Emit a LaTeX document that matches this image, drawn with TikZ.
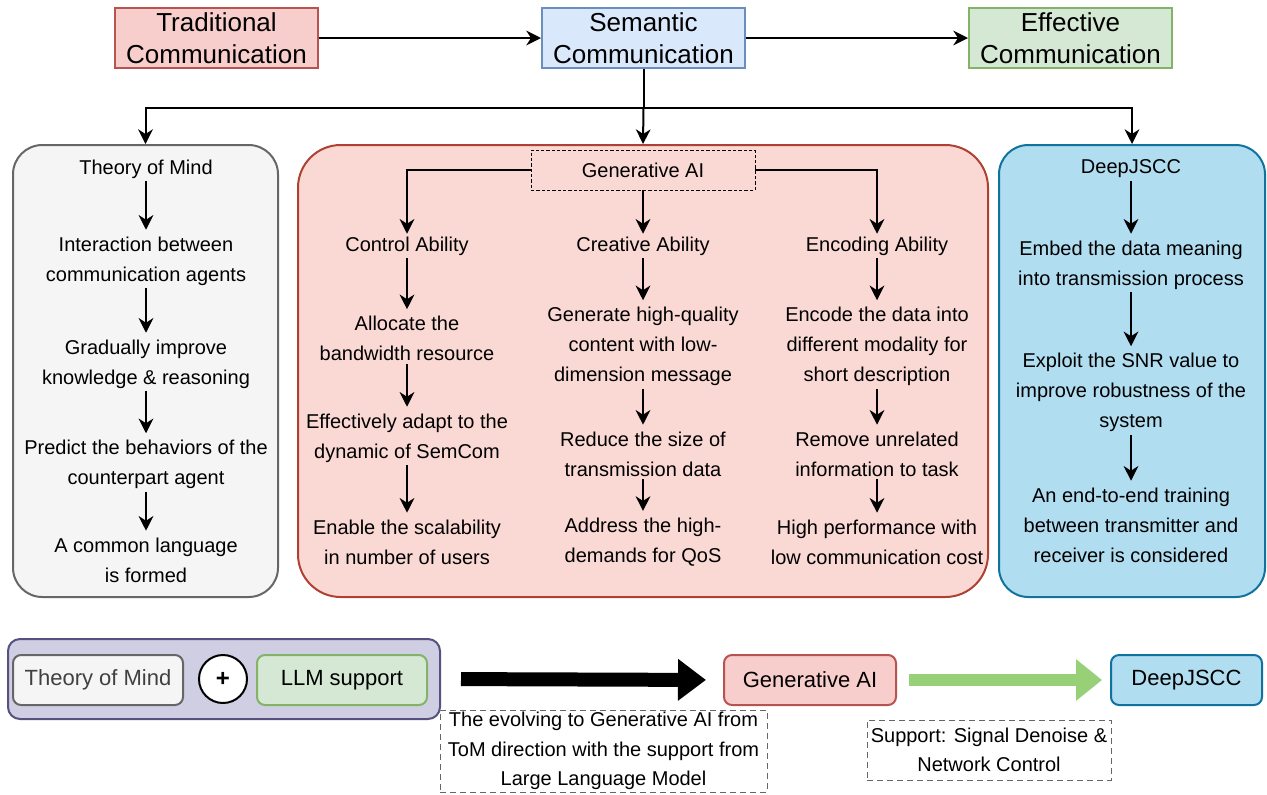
\documentclass[tikz,border=0pt]{standalone}
\usepackage{fontspec}
\setmainfont{Liberation Sans}
\usetikzlibrary{arrows.meta,shapes.geometric}
\definecolor{tradF}{HTML}{F8CECC}\definecolor{tradD}{HTML}{B85450}
\definecolor{semF}{HTML}{DAE8FC}\definecolor{semD}{HTML}{6C8EBF}
\definecolor{effF}{HTML}{D5E8D4}\definecolor{effD}{HTML}{82B366}
\definecolor{tomF}{HTML}{F5F5F5}\definecolor{tomD}{HTML}{666666}
\definecolor{midF}{HTML}{FAD9D5}\definecolor{midD}{HTML}{AE4132}
\definecolor{djF}{HTML}{B1DDF0}\definecolor{djD}{HTML}{10739E}
\definecolor{purF}{HTML}{D0CEE2}\definecolor{purD}{HTML}{56517E}
\definecolor{grA}{HTML}{97D077}
\begin{document}
\begin{tikzpicture}[x=0.75pt,y=-0.75pt,
  box/.style={draw, line width=1.5pt, inner sep=0pt, align=center},
  topbox/.style={box, minimum width={203*0.75pt}, minimum height={60*0.75pt}, font=\fontsize{19.5}{24}\selectfont},
  bigbox/.style={box, minimum height={452*0.75pt}},
  txt/.style={align=center, font=\fontsize{15}{22.5}\selectfont, inner sep=2pt, yshift=-1.5pt},
  botbox/.style={box, rounded corners=6pt, minimum height={50*0.75pt}, font=\fontsize{16.5}{20}\selectfont},
  capbox/.style={draw=tomD, line width=0.75pt, dash pattern=on 4.5pt off 3pt, align=center, inner sep=0pt, font=\fontsize{15}{22.2}\selectfont},
  arr/.style={line width=1.5pt, -{Stealth[length=11pt,width=11pt,inset=3.5pt]}},
  arrS/.style={arr, shorten >=3pt}]
\useasboundingbox (0,0) rectangle (1267,794);

% top row
\node[topbox, fill=tradF, draw=tradD] (trad) at (216.5,38) {Traditional\\Communication};
\node[topbox, fill=semF, draw=semD] (sem) at (643.5,38) {Semantic\\Communication};
\node[topbox, fill=effF, draw=effD] (eff) at (1070.5,38) {Effective\\Communication};
\draw[arr] (trad) -- (sem);
\draw[arr] (sem) -- (eff);

% big boxes
\node[bigbox, fill=tomF, draw=tomD, rounded corners=22pt, minimum width={265*0.75pt}] (tom) at (145.5,371) {};
\node[bigbox, fill=midF, draw=midD, rounded corners=32pt, minimum width={690*0.75pt}] (mid) at (643,371) {};
\node[bigbox, fill=djF, draw=djD, rounded corners=22pt, minimum width={266*0.75pt}] (djs) at (1132,371) {};

\coordinate (j) at (643.5,108);
\draw[line width=1.5pt] (sem.south) -- (j);
\draw[arr] (j) -| (tom.north);
\draw[arr] (j) -- (mid.north);
\draw[arr] (j) -| (djs.north);

% left column
\node[txt] (l0) at (146,167) {Theory of Mind};
\node[txt] (l1) at (146,259) {Interaction between\\communication agents};
\node[txt] (l2) at (146,362) {Gradually improve\\knowledge \& reasoning};
\node[txt] (l3) at (146,462.5) {Predict the behaviors of the\\counterpart agent};
\node[txt] (l4) at (146,558) {A common language\\is formed};
\draw[arrS] (l0) -- (l1);
\draw[arrS] (l1) -- (l2);
\draw[arrS] (l2) -- (l3);
\draw[arrS] (l3) -- (l4);

% middle
\node[txt, draw=black, line width=0.6pt, dash pattern=on 2.5pt off 1.5pt, minimum width={224*0.75pt}, minimum height={40*0.75pt}, inner sep=0pt, yshift=1.5pt] (gai) at (643,170) {Generative AI};
\node[txt] (c0) at (407,244) {Control Ability};
\node[txt] (c1) at (407,336.5) {Allocate the\\bandwidth resource};
\node[txt] (c2) at (407,436) {Effectively adapt to the\\dynamic of SemCom};
\node[txt] (c3) at (407,540) {Enable the scalability\\in number of users};
\node[txt] (r0) at (643,244) {Creative Ability};
\node[txt] (r1) at (643,344.5) {Generate high-quality\\content with low-\\dimension message};
\node[txt] (r2) at (643,452) {Reduce the size of\\transmission data};
\node[txt] (r3) at (643,540) {Address the high-\\demands for QoS};
\node[txt] (e0) at (877,244) {Encoding Ability};
\node[txt] (e1) at (877,344.5) {Encode the data into\\different modality for\\short description};
\node[txt] (e2) at (877,452) {Remove unrelated\\information to task};
\node[txt] (e3) at (877,540) {High performance with\\low communication cost};
\draw[arr] (gai.west) -| (c0.north);
\draw[arr] (gai.south) -- (r0.north);
\draw[arr] (gai.east) -| (e0.north);
\foreach \a/\b in {c0/c1,c1/c2,c2/c3,r0/r1,r1/r2,r2/r3,e0/e1,e1/e2,e2/e3}
  \draw[arrS] (\a) -- (\b);

% right column
\node[txt] (d0) at (1131,167) {DeepJSCC};
\node[txt] (d1) at (1131,263) {Embed the data meaning\\into transmission process};
\node[txt] (d2) at (1131,390.5) {Exploit the SNR value to\\improve robustness of the\\system};
\node[txt] (d3) at (1131,523) {An end-to-end training\\between transmitter and\\receiver is considered};
\draw[arrS] (d0) -- (d1);
\draw[arrS] (d1) -- (d2);
\draw[arrS] (d2) -- (d3);

% bottom row
\node[box, fill=purF, draw=purD, rounded corners=9pt, minimum width={432*0.75pt}, minimum height={80*0.75pt}] (cont) at (224,679) {};
\node[botbox, fill=tomF, draw=tomD, minimum width={170*0.75pt}, text=black!75] (btom) at (98,680) {Theory of Mind};
\node[circle, draw, line width=1.5pt, fill=white, minimum size={48*0.75pt}, inner sep=0pt, font=\fontsize{18}{20}\selectfont\bfseries] (plus) at (223,679) {+};
\node[botbox, fill=effF, draw=effD, minimum width={170*0.75pt}] (llm) at (342,680) {LLM support};
\node[botbox, fill=tradF, draw=tradD, minimum width={172*0.75pt}] (bgen) at (810,680) {Generative AI};
\node[botbox, fill=djF, draw=djD, minimum width={151*0.75pt}] (bdj) at (1186.5,680) {DeepJSCC};
\draw[line width=10.5pt, -{Triangle[length=21pt,width=30pt]}, shorten <=15pt, shorten >=12.75pt] (cont.east) -- (bgen.west);
\draw[grA, line width=9pt, -{Triangle[length=19.5pt,width=30pt]}, shorten <=9pt, shorten >=6pt] (bgen.east) -- (bdj.west);

\node[capbox, minimum width={327*0.75pt}, minimum height={82*0.75pt}] (cap1) at (603.5,751) {The evolving to Generative AI from\\ToM direction with the support from\\Large Language Model};
\node[capbox, minimum width={244*0.75pt}, minimum height={60*0.75pt}] (cap2) at (989,750) {Support: Signal Denoise \&\\Network Control};
\end{tikzpicture}
\end{document}
